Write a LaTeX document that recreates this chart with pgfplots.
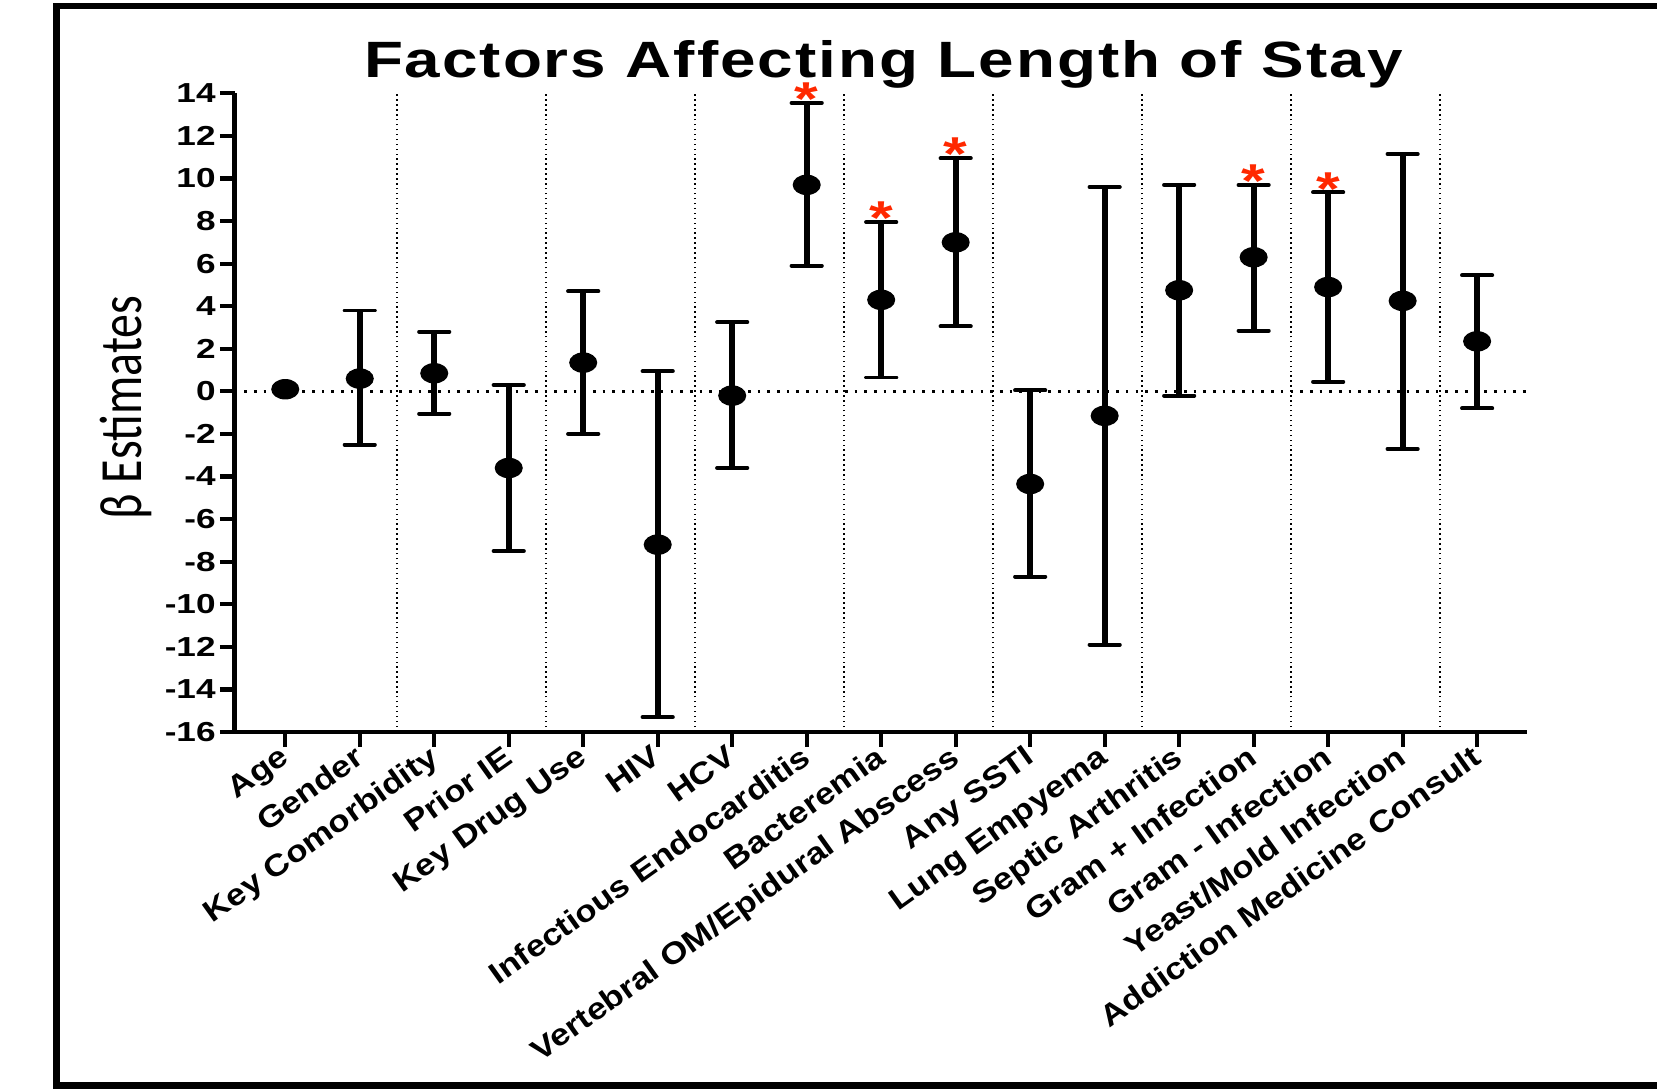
\documentclass[border=0pt]{standalone}
\usepackage{pgfplots}
\pgfplotsset{compat=1.18}
\usepackage{pgfplotstable}
\usepackage{fontspec}
\setmainfont{Liberation Sans}
\newfontfamily\tickfamily{Liberation Sans}[FakeStretch=1.28]
\newfontfamily\xlabfamily{Liberation Sans}[FakeStretch=1.15]
\newfontfamily\titlefamily{Liberation Sans}[FakeStretch=1.25,LetterSpace=3.8]
\newfontfamily\ylabfamily{Carlito}[FakeStretch=0.8]
\definecolor{starred}{RGB}{255,40,0}

% estimate, upper and lower distance of the 95% CI
\pgfplotstableread{
x y ep em
0 0.10 0 0
1 0.60 3.20 3.10
2 0.85 1.95 1.90
3 -3.60 3.90 3.90
4 1.35 3.35 3.35
5 -7.20 8.15 8.10
6 -0.20 3.45 3.40
7 9.70 3.85 3.80
8 4.30 3.65 3.65
9 7.00 3.95 3.95
10 -4.35 4.40 4.35
11 -1.15 10.75 10.75
12 4.75 4.95 4.95
13 6.30 3.40 3.45
14 4.90 4.45 4.45
15 4.25 6.90 6.95
16 2.35 3.10 3.15
}\betas

% significant factors, placed on top of the upper cap
\pgfplotstableread{
x y
7 13.55
8 7.95
9 10.95
13 9.70
14 9.35
}\stars

\begin{document}
\begin{tikzpicture}
\begin{axis}[
    scale only axis,
    width=366.9pt, height=181.3pt,
    at={(66.6pt,101.5pt)}, anchor=south west,
    xmin=-0.68, xmax=16.67,
    ymin=-16, ymax=14,
    axis lines*=left,
    axis line style={line width=1.2pt},
    tick align=outside,
    major tick length=4.2pt,
    tick style={line width=1.2pt, black},
    clip=false,
    xtick={0,...,16},
    xticklabels={Age, Gender, Key Comorbidity, Prior IE, Key Drug Use, HIV, HCV,
        Infectious Endocarditis, Bacteremia, Vertebral OM/Epidural Abscess,
        Any SSTI, Lung Empyema, Septic Arthritis, Gram + Infection,
        Gram - Infection, Yeast/Mold Infection, Addiction Medicine Consult},
    xticklabel style={font=\xlabfamily\bfseries\fontsize{8.6}{9}\selectfont,
        rotate=35.5, anchor=north east, inner sep=1pt, yshift=3pt},
    ytick={-16,-14,...,14},
    yticklabels={-16,-14,-12,-10,-8,-6,-4,-2,0,2,4,6,8,10,12,14},
    yticklabel style={font=\tickfamily\bfseries\fontsize{7.8}{8}\selectfont,
        inner sep=1pt},
    extra x ticks={1.5,3.5,...,15.5},
    extra x tick labels={},
    extra x tick style={major tick length=0pt, xmajorgrids=true,
        major grid style={densely dotted, line width=0.45pt, black}},
    title={Factors Affecting Length of Stay},
    title style={font=\titlefamily\bfseries\fontsize{14.5}{16}\selectfont,
        at={(axis description cs:0.5,1)}, anchor=base, xshift=0.7pt, yshift=-1.5pt},
    ylabel={β Estimates},
    ylabel style={font=\ylabfamily\fontsize{17}{18}\selectfont,
        at={(axis description cs:-0.072,0.508)}, anchor=base},
]

\draw[dotted, line width=0.75pt] (axis cs:-0.68,0) -- (axis cs:16.67,0);

\addplot[
    draw=none, mark=none,
    skip coords between index={0}{1},
    error bars/.cd,
        y dir=both, y explicit,
        error mark=|,
        error bar style={line width=1.7pt, black},
        error mark options={black, mark size=4.3pt, line width=1.1pt, line cap=round},
] table[x=x, y=y, y error plus=ep, y error minus=em] {\betas};

\addplot[
    only marks, mark=*, black,
    mark options={xscale=1.4, mark size=2.7pt},
] table[x=x, y=y] {\betas};

\addplot[
    only marks, mark=text, text mark={*}, color=starred,
    text mark as node=true,
    text mark style={font=\tickfamily\bfseries\fontsize{13.5}{14}\selectfont,
        anchor=base, yshift=-3.6pt, inner sep=0pt},
] table[x=x, y=y] {\stars};

\end{axis}

\draw[line width=1.9pt] (470.4pt,1.2pt) -- (16pt,1.2pt) -- (16pt,307.6pt) -- (470.4pt,307.6pt);

\pgfresetboundingbox
\useasboundingbox (0,0) rectangle (470.4pt,309.3pt);
\end{tikzpicture}
\end{document}
